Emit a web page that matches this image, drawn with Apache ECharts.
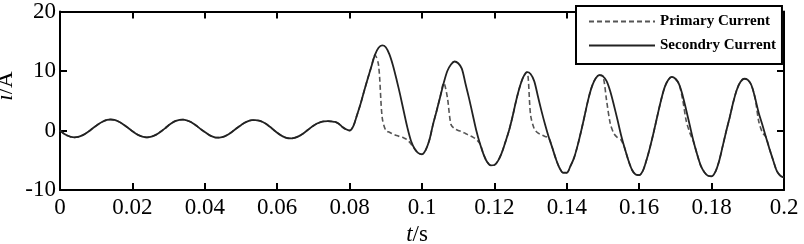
<!DOCTYPE html>
<html>
<head>
<meta charset="utf-8">
<script src="https://cdn.jsdelivr.net/npm/echarts@6/dist/echarts.min.js"></script>
<style>
  html, body { margin: 0; padding: 0; background: #fff; }
  #chart { width: 804px; height: 244px; }
</style>
</head>
<body>
<div id="chart"></div>
<script>
// samples every 1 ms from 0 to 0.2 s
var tStart = 0, tStep = 0.001;

// solid curve (legend: Secondry Current)
var secondary = [
  0.0, -0.5, -0.85, -1.08, -1.15, -1.08, -0.86, -0.53, -0.11, 0.35, 0.81, 1.23, 1.56, 1.78, 1.85, 1.78, 1.56, 1.23, 0.81, 0.35,
  -0.11, -0.53, -0.86, -1.08, -1.15, -1.08, -0.86, -0.53, -0.11, 0.35, 0.88, 1.3, 1.62, 1.8, 1.83, 1.72, 1.46, 1.1, 0.65, 0.18,
  -0.25, -0.68, -1.0, -1.18, -1.2, -1.08, -0.82, -0.45, 0.0, 0.46, 0.9, 1.3, 1.58, 1.73, 1.75, 1.65, 1.42, 1.08, 0.62, 0.12,
  -0.38, -0.8, -1.12, -1.3, -1.32, -1.2, -0.95, -0.58, -0.12, 0.35, 0.8, 1.17, 1.42, 1.55, 1.57, 1.52, 1.45, 1.15, 0.6, 0.2,
  0.0, 0.7, 2.5, 4.4, 6.6, 8.7, 10.7, 12.7, 13.9, 14.3, 14.0, 12.8, 10.9, 8.5, 5.9, 3.1, 0.4, -1.8, -3.1, -3.8,
  -4.0, -3.3, -1.7, 0.9, 3.2, 5.6, 8.0, 10.0, 11.1, 11.6, 11.3, 10.4, 7.9, 5.4, 2.7, 0.0, -2.2, -4.0, -5.3, -5.85,
  -5.8, -5.1, -3.8, -2.0, -0.1, 2.3, 5.0, 7.3, 9.0, 9.8, 9.5, 8.3, 5.8, 3.3, 1.0, -1.1, -2.9, -4.8, -6.3, -7.1,
  -7.1, -6.0, -4.6, -2.5, 0.0, 2.7, 5.4, 7.5, 8.8, 9.3, 9.1, 8.3, 6.6, 4.3, 1.8, -0.8, -3.0, -5.0, -6.6, -7.4,
  -7.5, -6.8, -5.0, -2.8, -0.3, 2.4, 5.0, 7.2, 8.5, 9.0, 8.7, 7.8, 5.9, 3.4, 0.8, -1.8, -4.0, -5.9, -7.0, -7.6,
  -7.7, -7.0, -5.3, -2.8, -0.2, 2.2, 4.8, 6.9, 8.2, 8.7, 8.5, 7.6, 5.5, 3.0, 1.0, -1.1, -3.1, -5.0, -6.8, -7.6,
  -7.9
];

// dashed curve (legend: Primary Current)
var primary = [
  0.0, -0.5, -0.85, -1.08, -1.15, -1.08, -0.86, -0.53, -0.11, 0.35, 0.81, 1.23, 1.56, 1.78, 1.85, 1.78, 1.56, 1.23, 0.81, 0.35,
  -0.11, -0.53, -0.86, -1.08, -1.15, -1.08, -0.86, -0.53, -0.11, 0.35, 0.88, 1.3, 1.62, 1.8, 1.83, 1.72, 1.46, 1.1, 0.65, 0.18,
  -0.25, -0.68, -1.0, -1.18, -1.2, -1.08, -0.82, -0.45, 0.0, 0.46, 0.9, 1.3, 1.58, 1.73, 1.75, 1.65, 1.42, 1.08, 0.62, 0.12,
  -0.38, -0.8, -1.12, -1.3, -1.32, -1.2, -0.95, -0.58, -0.12, 0.35, 0.8, 1.17, 1.42, 1.55, 1.57, 1.52, 1.45, 1.15, 0.6, 0.2,
  0.0, 0.7, 2.5, 4.4, 6.6, 8.7, 10.7, 12.7, 11.0, 2.2, 0.0, -0.3, -0.6, -0.85, -1.05, -1.25, -1.6, -2.3, -3.1, -3.8,
  -4.0, -3.3, -1.7, 0.9, 3.2, 5.6, 8.0, 5.6, 1.0, 0.3, 0.0, -0.2, -0.5, -0.8, -1.1, -1.5, -2.2, -4.0, -5.3, -5.85,
  -5.8, -5.1, -3.8, -2.0, -0.1, 2.3, 5.0, 7.3, 9.0, 9.8, 2.6, 0.3, -0.4, -0.7, -1.0, -1.2, -2.9, -4.8, -6.3, -7.1,
  -7.1, -6.0, -4.6, -2.5, 0.0, 2.7, 5.4, 7.5, 8.8, 9.3, 9.1, 5.0, 1.2, -0.5, -1.2, -1.6, -3.0, -5.0, -6.6, -7.4,
  -7.5, -6.8, -5.0, -2.8, -0.3, 2.4, 5.0, 7.2, 8.5, 9.0, 8.7, 7.8, 5.2, 1.6, -0.4, -1.9, -4.0, -5.9, -7.0, -7.6,
  -7.7, -7.0, -5.3, -2.8, -0.2, 2.2, 4.8, 6.9, 8.2, 8.7, 8.5, 7.6, 5.5, 1.6, -0.3, -1.1, -3.1, -5.0, -6.8, -7.6,
  -7.9
];

var xTicks = [0, 0.02, 0.04, 0.06, 0.08, 0.1, 0.12, 0.14, 0.16, 0.18, 0.2];
var xTickLabels = ['0', '0.02', '0.04', '0.06', '0.08', '0.1', '0.12', '0.14', '0.16', '0.18', '0.2'];
var yTickLabels = ['-10', '0', '10', '20'];
var seriesNames = ['Primary Current', 'Secondry Current'];

initChart();
function initChart() {
  var dom = document.getElementById('chart');
  var myChart = echarts.init(dom, null, { renderer: 'canvas' });

  function pairs(vals) {
    return vals.map(function (v, i) { return [tStart + i * tStep, v]; });
  }
  var font = 'Liberation Serif';
  var lineBlack = { color: '#000', width: 2 };
  function xLabel(v) {
    var i = Math.round(v / 0.02);
    return xTickLabels[i] !== undefined ? xTickLabels[i] : '';
  }
  function yLabel(v) {
    var i = Math.round((v + 10) / 10);
    return yTickLabels[i] !== undefined ? yTickLabels[i] : '';
  }
  var xBase = {
    type: 'value', min: xTicks[0], max: xTicks[xTicks.length - 1], interval: 0.02,
    axisLine: { onZero: false, lineStyle: lineBlack },
    axisTick: { inside: true, length: 7, lineStyle: lineBlack },
    splitLine: { show: false }
  };
  var yBase = {
    type: 'value', min: -10, max: 20, interval: 10,
    axisLine: { onZero: false, lineStyle: lineBlack },
    axisTick: { inside: true, length: 7, lineStyle: lineBlack },
    splitLine: { show: false }
  };

  var option = {
    animation: false,
    grid: { left: 60, right: 20, top: 6, bottom: 54 },
    xAxis: [
      Object.assign({}, xBase, {
        position: 'bottom',
        axisLabel: { color: '#000', fontFamily: font, fontSize: 23, margin: 6, formatter: xLabel }
      }),
      Object.assign({}, xBase, { position: 'top', axisLabel: { show: false } })
    ],
    yAxis: [
      Object.assign({}, yBase, {
        position: 'left',
        axisLabel: { color: '#000', fontFamily: font, fontSize: 23, margin: 4, formatter: yLabel }
      }),
      Object.assign({}, yBase, { position: 'right', axisLabel: { show: false } })
    ],
    legend: {
      data: seriesNames,
      orient: 'vertical',
      left: 576, top: 6,
      itemWidth: 66, itemHeight: 12, itemGap: 9,
      padding: [8, 6, 11, 12],
      borderColor: '#000', borderWidth: 2,
      backgroundColor: '#fff',
      itemStyle: { opacity: 0 },
      textStyle: { color: '#000', fontFamily: font, fontWeight: 'bold', fontSize: 15 }
    },
    graphic: [
      {
        type: 'text', x: 17, y: 86, rotation: Math.PI / 2,
        style: {
          text: '{it|i}/A', fill: '#000', fontFamily: font, fontSize: 23,
          textAlign: 'center', textVerticalAlign: 'bottom',
          rich: { it: { fontStyle: 'italic', fontFamily: font, fontSize: 23, fill: '#000' } }
        }
      },
      {
        type: 'text', x: 417, y: 235,
        style: {
          text: '{it|t}/s', fill: '#000', fontFamily: font, fontSize: 23,
          textAlign: 'center', textVerticalAlign: 'middle',
          rich: { it: { fontStyle: 'italic', fontFamily: font, fontSize: 23, fill: '#000' } }
        }
      }
    ],
    series: [
      {
        name: seriesNames[0], type: 'line', z: 2,
        data: pairs(primary),
        symbol: 'none', smooth: 0.3,
        lineStyle: { color: '#555', width: 1.6, type: [5, 3] },
        itemStyle: { color: '#555' }
      },
      {
        name: seriesNames[1], type: 'line', z: 3,
        data: pairs(secondary),
        symbol: 'none', smooth: 0.3,
        lineStyle: { color: '#222', width: 1.8 },
        itemStyle: { color: '#222' }
      }
    ]
  };

  myChart.setOption(option);
  window.addEventListener('resize', myChart.resize);
}
</script>
</body>
</html>
